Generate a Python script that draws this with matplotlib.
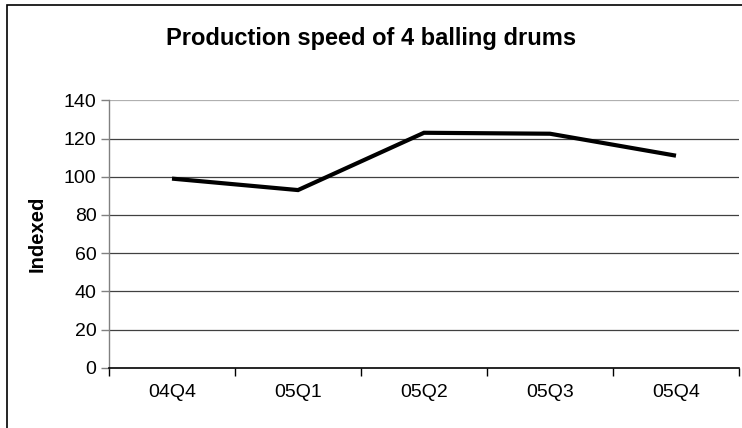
import matplotlib
matplotlib.use("Agg")
import matplotlib.pyplot as plt
from matplotlib.patches import Rectangle

plt.rcParams['font.family'] = ['Liberation Sans', 'DejaVu Sans']

quarters = ["04Q4", "05Q1", "05Q2", "05Q3", "05Q4"]
indexed = [99, 93, 123, 122.5, 111]
y_ticks = [0, 20, 40, 60, 80, 100, 120, 140]

fig = plt.figure(figsize=(7.42, 4.28), dpi=100)
fig.patch.set_facecolor("white")

# chart border (outer frame of the chart object)
fig.patches.append(Rectangle((7 / 742, -0.05), 1.2, 1 - 5 / 428 + 0.05,
                             transform=fig.transFigure, fill=False,
                             edgecolor="black", linewidth=1.2, zorder=0))

ax = fig.add_axes([109 / 742, 1 - 367.7 / 428, (739 - 109) / 742, (367.7 - 100.3) / 428])
x = list(range(len(quarters)))
ax.plot(x, indexed, color="black", linewidth=3.0, solid_capstyle="butt",
        solid_joinstyle="miter", zorder=3)

ax.set_ylim(0, 140)
ax.set_xlim(-0.5, len(quarters) - 0.5)
ax.set_yticks(y_ticks)
ax.set_yticklabels([str(v) for v in y_ticks], fontsize=14)
for v in y_ticks[1:]:
    ax.axhline(v, color="#b0b0b0" if v == 140 else "#404040", linewidth=0.9, zorder=1)

# category labels centred, tick marks at category boundaries
ax.set_xticks(x)
ax.set_xticklabels(quarters, fontsize=14)
ax.tick_params(axis="x", which="major", length=0, pad=12)
ax.set_xticks([i - 0.5 for i in range(len(quarters) + 1)], minor=True)
ax.tick_params(axis="x", which="minor", length=6, width=1.0, color="black", direction="out")
ax.tick_params(axis="y", length=6, width=1.0, color="#808080", direction="out", pad=3)

for side in ("top", "right"):
    ax.spines[side].set_visible(False)
ax.spines["left"].set_color("#808080")
ax.spines["left"].set_linewidth(1.0)
ax.spines["bottom"].set_color("black")
ax.spines["bottom"].set_linewidth(1.2)

ax.set_ylabel("Indexed", fontsize=14.5, fontweight="bold", labelpad=12)
fig.text(0.5, 1 - 38 / 428, "Production speed of 4 balling drums",
         ha="center", va="center", fontsize=17, fontweight="bold")

fig.savefig("out.png", dpi=100)
